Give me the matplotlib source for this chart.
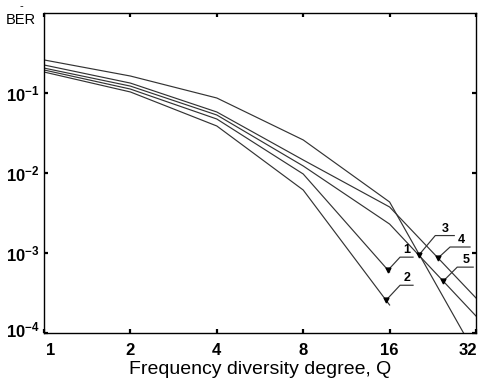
import numpy as np
import matplotlib
matplotlib.use("Agg")
import matplotlib.pyplot as plt
from matplotlib.transforms import ScaledTranslation

# ---------------- data ----------------
q_full = [1, 2, 4, 8, 16, 32]
q_half = [1, 2, 4, 8, 16]

ber_1 = [0.194, 0.112, 0.0473, 0.00972, 5.8e-4]
ber_2 = [0.183, 0.103, 0.0387, 0.00613, 2.24e-4]
ber_3 = [0.259, 0.163, 0.0866, 0.0259, 0.00434, 5.3e-5]
ber_4 = [0.224, 0.133, 0.0579, 0.01455, 0.00376, 2.74e-4]
ber_5 = [0.205, 0.122, 0.0531, 0.01224, 0.0023, 1.63e-4]

curve_labels = ["1", "2", "3", "4", "5"]
label_q = [15.8, 15.55, 20.3, 23.6, 24.6]

x_ticks = [1, 2, 4, 8, 16, 32]
x_ticklabels = ["1", "2", "4", "8", "16", "32"]
y_ticks = [1e-4, 1e-3, 1e-2, 1e-1]
y_ticklabels = [r"$10^{-4}$", r"$10^{-3}$", r"$10^{-2}$", r"$10^{-1}$"]

# ---------------- style ----------------
plt.rcParams["font.family"] = ["Liberation Sans", "DejaVu Sans"]
plt.rcParams["mathtext.fontset"] = "custom"
plt.rcParams["mathtext.rm"] = "Liberation Sans:bold"
plt.rcParams["mathtext.it"] = "Liberation Sans:bold"
plt.rcParams["mathtext.bf"] = "Liberation Sans:bold"

W, H = 479, 392
fig = plt.figure(figsize=(W / 100, H / 100), dpi=100)
ax = fig.add_axes([44 / W, (H - 333) / H, 432 / W, 320 / H])

ax.set_xscale("log", base=2)
ax.set_yscale("log")
ax.set_xlim(1, 32)
ax.set_ylim(1e-4, 1)

line_kw = dict(color="#333333", lw=0.85, solid_joinstyle="miter")
series = [(q_half, ber_1), (q_half, ber_2), (q_full, ber_3), (q_full, ber_4), (q_full, ber_5)]
for xs, ys in series:
    ax.plot(xs, ys, **line_kw)

ax.set_xticks(x_ticks)
ax.set_xticklabels(x_ticklabels)
ax.set_yticks(y_ticks)
ax.set_yticklabels(y_ticklabels)
ax.minorticks_off()
ax.tick_params(which="major", direction="in", length=3, width=1.6,
               top=True, right=True)
ax.tick_params(axis="x", pad=7, labelsize=12)
ax.tick_params(axis="y", pad=3, labelsize=12)
for lab in ax.get_xticklabels():
    lab.set_fontweight("bold")
xl = ax.get_xticklabels()
xl[0].set_transform(xl[0].get_transform() + ScaledTranslation(7 / 100, 0, fig.dpi_scale_trans))
xl[-1].set_transform(xl[-1].get_transform() + ScaledTranslation(-8 / 100, 0, fig.dpi_scale_trans))
yl = ax.get_yticklabels()
yl[0].set_transform(yl[0].get_transform() + ScaledTranslation(0, 4 / 100, fig.dpi_scale_trans))

for s in ax.spines.values():
    s.set_linewidth(1.0)
    s.set_color("black")

ax.set_xlabel("Frequency diversity degree, Q", fontsize=14, labelpad=2)
fig.text(6 / W, 1 - 20 / H, "BER", fontsize=10.5, va="center", ha="left")
fig.text(20 / W, 1 - 6 / H, "-", fontsize=8, va="center", ha="left")

# ---------------- labels with leaders ----------------
# leader offsets in pixels: (diag dx, diag dy, horizontal length)
leaders = [(12, 13, 13), (14, 15, 13), (16, 19, 19), (12, 11, 20), (14, 14, 16)]
fig.canvas.draw()
to_data = ax.transData.inverted()
for (xs, ys), lab, qv, (dx, dy, hl) in zip(series, curve_labels, label_q, leaders):
    lx = np.log2(xs)
    ly = np.log10(ys)
    yv = 10 ** np.interp(np.log2(qv), lx, ly)
    p0 = ax.transData.transform((qv, yv))
    p1 = p0 + np.array([dx, dy])
    p2 = p1 + np.array([hl, 0])
    pts = to_data.transform(np.array([p0, p1, p2]))
    ax.plot(pts[:, 0], pts[:, 1], color="#333333", lw=0.85, clip_on=False)
    ax.plot([qv], [yv], marker="v", ms=3.5, color="black", clip_on=False)
    tp = to_data.transform(p1 + np.array([hl * 0.55, 1]))
    ax.text(tp[0], tp[1], lab, fontsize=9, fontweight="bold", ha="center", va="bottom")

fig.savefig("out.png", dpi=100)
